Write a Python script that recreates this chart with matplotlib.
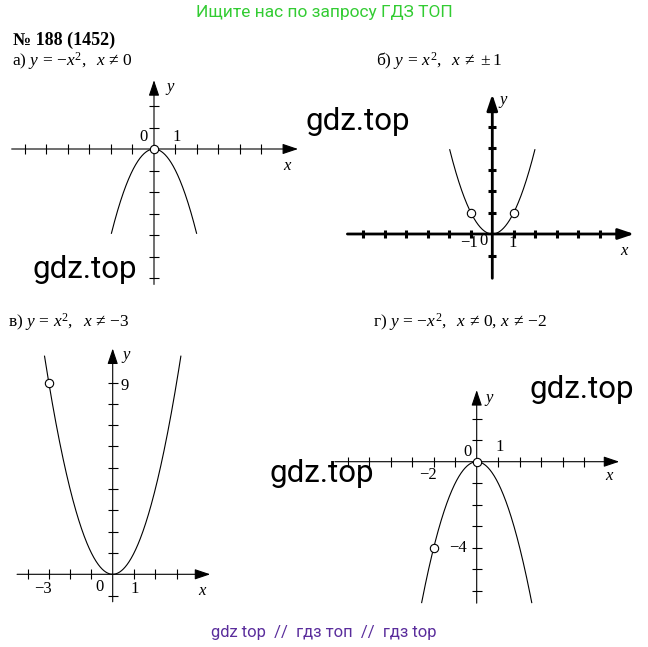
import numpy as np
import matplotlib
matplotlib.use("Agg")
import matplotlib.pyplot as plt

plt.rcParams["mathtext.fontset"] = "custom"
plt.rcParams["mathtext.rm"] = "Liberation Serif"
plt.rcParams["mathtext.it"] = "Liberation Serif:italic"
plt.rcParams["font.family"] = ["Liberation Serif", "DejaVu Serif"]

W, H = 648, 647
SCALE = 21.5  # px per unit

# --- data -------------------------------------------------------------
# а) y = -x^2, x != 0
a_xrange = (-1.98, 1.98)
a_holes_x = [0]
a_xticks = [-6, -5, -4, -3, -2, -1, 1, 2, 3, 4, 5]
a_yticks = [2, 1, -1, -2, -3, -4, -5, -6]

# б) y = x^2, x != ±1
b_xrange = (-1.98, 1.98)
b_holes_x = [-1, 1]
b_xticks = [-6, -5, -4, -3, -2, -1, 1, 2, 3, 4, 5]
b_yticks = [5, 4, 3, 2, 1, -1]

# в) y = x^2, x != -3
v_xrange = (-3.2, 3.2)
v_holes_x = [-3]
v_xticks = [-4, -3, -2, -1, 1, 2, 3]
v_yticks = [1, 2, 3, 4, 5, 6, 7, 8, 9, -1]

# г) y = -x^2, x != 0, x != -2
g_xrange = (-2.56, 2.56)
g_holes_x = [0, -2]
g_xticks = [-6, -5, -4, -3, -2, -1, 1, 2, 3, 4, 5]
g_yticks = [2, 1, -1, -2, -3, -4, -5, -6]


def panel(fig, origin, xaxis, yaxis, lw=0.8, scale=SCALE):
    """Axes placed so that data (0,0) lands on image pixel origin"""
    ox, oy = origin
    pad = 0.6
    x0, x1 = xaxis[0] - pad, xaxis[1] + pad
    y0, y1 = yaxis[0] - pad, yaxis[1] + pad
    left = (ox + x0 * scale) / W
    bottom = (H - (oy - y0 * scale)) / H
    ax = fig.add_axes([left, bottom, (x1 - x0) * scale / W, (y1 - y0) * scale / H])
    ax.set_xlim(x0, x1)
    ax.set_ylim(y0, y1)
    ax.axis("off")
    arrow = dict(arrowstyle="-|>,head_length=0.95,head_width=0.32", lw=lw,
                 color="k", shrinkA=0, shrinkB=0)
    ax.annotate("", xy=(xaxis[1], 0), xytext=(xaxis[0], 0), arrowprops=arrow)
    ax.annotate("", xy=(0, yaxis[1]), xytext=(0, yaxis[0]), arrowprops=arrow)
    return ax


def ticks(ax, xt, yt, mew=0.8, ms=6.5):
    ax.plot(xt, np.zeros(len(xt)), ls="none", marker="|", ms=ms, mew=mew, color="k")
    ax.plot(np.zeros(len(yt)), yt, ls="none", marker="_", ms=ms, mew=mew, color="k")


def parabola(ax, xr, sign, holes, lw=0.8):
    x = np.linspace(xr[0], xr[1], 300)
    ax.plot(x, sign * x ** 2, color="k", lw=lw)
    hx = np.array(holes, dtype=float)
    ax.plot(hx, sign * hx ** 2, ls="none", marker="o", ms=6, mfc="white",
            mec="k", mew=0.8, zorder=5)


def lab(ax, x, y, s, italic=False):
    ax.text(x, y, s, ha="center", va="center", fontsize=12,
            fontstyle="italic" if italic else "normal")


def minus(s):
    return s.replace("-", "\u2212")


fig = plt.figure(figsize=(W / 100, H / 100), dpi=100)

# а)
ax = panel(fig, (154, 149), (-6.62, 6.7), (-6.3, 3.2))
ticks(ax, a_xticks, a_yticks)
parabola(ax, a_xrange, -1, a_holes_x)
lab(ax, -0.47, 0.56, "0")
lab(ax, 1.07, 0.56, "1")
lab(ax, 0.74, 2.88, "y", True)
lab(ax, 6.19, -0.79, "x", True)

# б)
ax = panel(fig, (492.3, 234), (-6.74, 6.6), (-2.06, 6.5), lw=2.0)
ticks(ax, b_xticks, b_yticks, mew=2.2, ms=6)
parabola(ax, b_xrange, 1, b_holes_x)
lab(ax, -1.1, -0.42, minus("-1"))
lab(ax, -0.39, -0.32, "0")
lab(ax, 0.95, -0.44, "1")
lab(ax, 0.51, 6.23, "y", True)
lab(ax, 6.1, -0.78, "x", True)

# в)
ax = panel(fig, (112.7, 574.3), (-4.49, 4.58), (-1.29, 10.6), scale=21.3)
ticks(ax, v_xticks, v_yticks)
parabola(ax, v_xrange, 1, v_holes_x)
lab(ax, 0.57, 8.85, "9")
lab(ax, -3.26, -0.7, minus("-3"))
lab(ax, -0.63, -0.61, "0")
lab(ax, 1.01, -0.7, "1")
lab(ax, 0.62, 10.3, "y", True)
lab(ax, 4.18, -0.78, "x", True)

# г)
ax = panel(fig, (476.7, 461.7), (-6.6, 6.63), (-6.58, 3.33))
ticks(ax, g_xticks, g_yticks)
x = np.linspace(g_xrange[0], g_xrange[1], 300)
ax.plot(x, -x ** 2, color="k", lw=0.8)
hx = np.array(g_holes_x, dtype=float)
ax.plot(hx, -hx ** 2, ls="none", marker="o", ms=6, mfc="white", mec="k", mew=0.8, zorder=5)
lab(ax, -0.44, 0.47, "0")
lab(ax, 1.05, 0.7, "1")
lab(ax, -2.25, -0.62, minus("-2"))
lab(ax, -0.85, -4.03, minus("-4"))
lab(ax, 0.59, 2.95, "y", True)
lab(ax, 6.17, -0.67, "x", True)


def ftext(x, y, s, **kw):
    fig.text(x / W, 1 - y / H, s, **kw)


ftext(324, 12, "Ищите нас по запросу ГДЗ ТОП", ha="center", va="center",
      fontsize=12.5, color="#33cc33", family="Roboto")
ftext(13, 40, "№ 188 (1452)", ha="left", va="center", fontsize=13, weight="bold")

TS = 12.5
ftext(12, 66, "а) $y\\,=\\,{-}x^2,\\ \\ x\\,\\neq\\,0$", ha="left", va="baseline", fontsize=TS)
ftext(376, 66, "б) $y\\,=\\,x^2,\\ \\ x\\,\\neq\\,\\pm 1$", ha="left", va="baseline", fontsize=TS)
ftext(8, 327, "в) $y\\,=\\,x^2,\\ \\ x\\,\\neq\\,{-}3$", ha="left", va="baseline", fontsize=TS)
ftext(373, 327, "г) $y\\,=\\,{-}x^2,\\ \\ x\\,\\neq\\,0,\\,x\\,\\neq\\,{-}2$", ha="left",
      va="baseline", fontsize=TS)

for wx, wy in [(358, 122), (85, 270), (582, 390), (322, 474)]:
    ftext(wx, wy, "gdz.top", ha="center", va="center", fontsize=22.5,
          color="black", family="Roboto")

ftext(324, 632, "gdz top  //  гдз топ  //  гдз top", ha="center", va="center",
      fontsize=12, color="#5a2d9c", family="Roboto")

fig.savefig("out.png", dpi=100)
